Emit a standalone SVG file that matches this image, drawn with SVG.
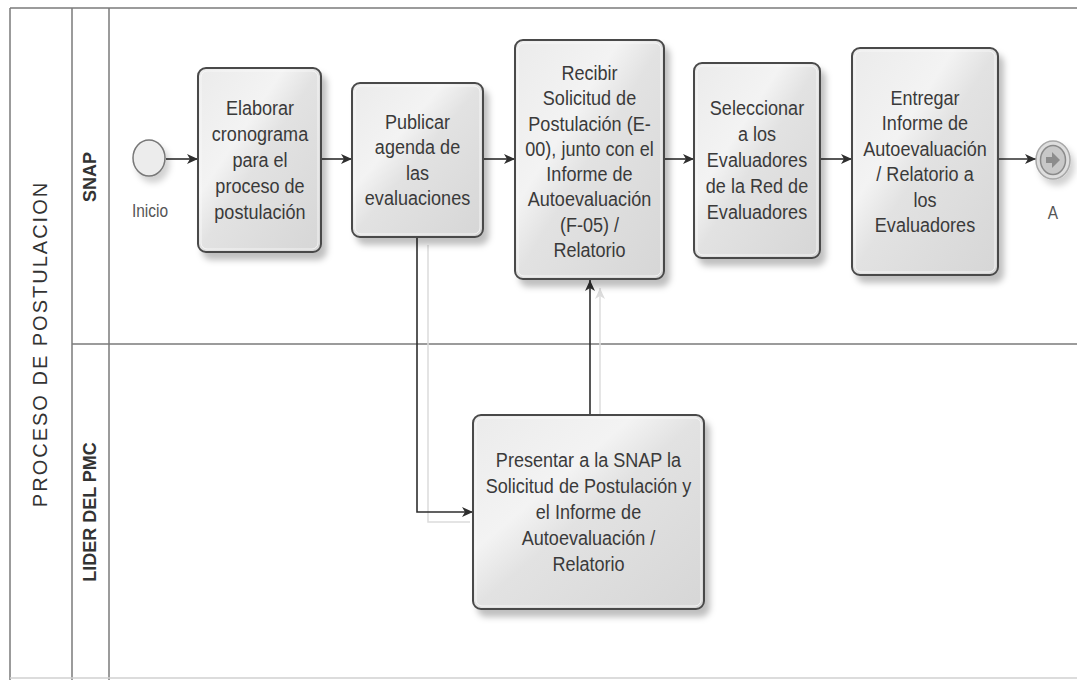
<svg xmlns="http://www.w3.org/2000/svg" width="1077" height="680" viewBox="0 0 1077 680">
<defs>
<style>
.frame{fill:none;stroke:#7a7a7a;stroke-width:1.5}
.box{fill:url(#g);stroke:#4a4a4a;stroke-width:2;filter:url(#sh)}
.inner{fill:none;stroke:#fafafa;stroke-width:1;opacity:0.8}
.t{font-family:"Liberation Sans",Arial,sans-serif;font-size:21px;fill:#3a3a3a;text-anchor:middle}
.lab{font-family:"Liberation Sans",Arial,sans-serif;font-size:18px;fill:#555;text-anchor:middle}
.lane{font-family:"Liberation Sans",Arial,sans-serif;font-weight:bold;font-size:18px;fill:#333;text-anchor:middle}
.pool{font-family:"Liberation Sans",Arial,sans-serif;font-size:20px;letter-spacing:2px;fill:#333;text-anchor:middle}
.c{fill:none;stroke:#2e2e2e;stroke-width:1.6;marker-end:url(#ar)}
.cs{fill:none;stroke:#dcdcdc;stroke-width:1.5}
</style>
<linearGradient id="g" x1="0" y1="0" x2="1" y2="1">
<stop offset="0" stop-color="#ebebeb"/>
<stop offset="0.35" stop-color="#f3f3f3"/>
<stop offset="0.5" stop-color="#e2e2e2"/>
<stop offset="1" stop-color="#d6d6d6"/>
</linearGradient>
<filter id="sh" x="-10%" y="-10%" width="130%" height="130%">
<feDropShadow dx="5" dy="7" stdDeviation="3" flood-color="#000" flood-opacity="0.25"/>
</filter>
<filter id="sh2" x="-50%" y="-50%" width="200%" height="200%">
<feDropShadow dx="4" dy="6" stdDeviation="3" flood-color="#000" flood-opacity="0.18"/>
</filter>
<marker id="ar" markerUnits="userSpaceOnUse" markerWidth="12" markerHeight="10" refX="11" refY="5" orient="auto">
<path d="M0,0 L11,5 L0,10 L3,5 z" fill="#2e2e2e"/>
</marker>
<marker id="ars" markerUnits="userSpaceOnUse" markerWidth="12" markerHeight="10" refX="11" refY="5" orient="auto">
<path d="M0,0 L11,5 L0,10 L3,5 z" fill="#dcdcdc"/>
</marker>
</defs>
<rect width="1077" height="680" fill="#fff"/>

<g id="pool">
<path class="frame" d="M10,8 H1077"/>
<path class="frame" d="M10,8 V680"/>
<path class="frame" d="M72,8 V680"/>
<path class="frame" d="M109,8 V680"/>
<path class="frame" d="M72,344 H1077"/>
<path d="M10,678 H1077" stroke="#d0d0d0" stroke-width="1.5"/>
<text class="pool" transform="translate(47,344) rotate(-90)">PROCESO DE POSTULACION</text>
<text class="lane" transform="translate(96,177) rotate(-90)">SNAP</text>
<text class="lane" transform="translate(96,512) rotate(-90)">LIDER DEL PMC</text>
</g>

<g id="connectors">
<path class="cs" d="M428,245 V522 H470"/>
<path class="cs" d="M600,415 V288" marker-end="url(#ars)"/>
<path class="c" d="M166,159 H198"/>
<path class="c" d="M321,159 H352"/>
<path class="c" d="M483,159 H515"/>
<path class="c" d="M664,159 H694"/>
<path class="c" d="M820,159 H852"/>
<path class="c" d="M998,159 H1036"/>
<path class="c" d="M417,237 V512 H473"/>
<path class="c" d="M590,415 V280"/>
</g>

<g id="start">
<ellipse cx="149" cy="158" rx="16" ry="18" fill="#ececec" stroke="#777" stroke-width="1.5" filter="url(#sh2)"/>
<text class="lab" transform="translate(150,217) scale(0.86,1)">Inicio</text>
</g>

<g id="elaborar">
<rect class="box" x="198" y="68" width="123" height="184" rx="8"/>
<rect class="inner" x="201" y="71" width="117" height="178" rx="6"/>
<text class="t" transform="translate(260,0) scale(0.86,1)"><tspan x="0" y="115">Elaborar</tspan><tspan x="0" dy="26">cronograma</tspan><tspan x="0" dy="26">para el</tspan><tspan x="0" dy="26">proceso de</tspan><tspan x="0" dy="26">postulación</tspan></text>
</g>

<g id="publicar">
<rect class="box" x="352" y="83" width="131" height="154" rx="8"/>
<rect class="inner" x="355" y="86" width="125" height="148" rx="6"/>
<text class="t" transform="translate(417.5,0) scale(0.86,1)"><tspan x="0" y="129">Publicar</tspan><tspan x="0" dy="25.5">agenda de</tspan><tspan x="0" dy="25.5">las</tspan><tspan x="0" dy="25.5">evaluaciones</tspan></text>
</g>

<g id="recibir">
<rect class="box" x="515" y="40" width="149" height="239" rx="8"/>
<rect class="inner" x="518" y="43" width="143" height="233" rx="6"/>
<text class="t" transform="translate(589.5,0) scale(0.86,1)"><tspan x="0" y="80">Recibir</tspan><tspan x="0" dy="25.3">Solicitud de</tspan><tspan x="0" dy="25.3">Postulación (E-</tspan><tspan x="0" dy="25.3">00), junto con el</tspan><tspan x="0" dy="25.3">Informe de</tspan><tspan x="0" dy="25.3">Autoevaluación</tspan><tspan x="0" dy="25.3">(F-05) /</tspan><tspan x="0" dy="25.3">Relatorio</tspan></text>
</g>

<g id="seleccionar">
<rect class="box" x="694" y="63" width="126" height="195" rx="8"/>
<rect class="inner" x="697" y="66" width="120" height="189" rx="6"/>
<text class="t" transform="translate(757,0) scale(0.86,1)"><tspan x="0" y="115">Seleccionar</tspan><tspan x="0" dy="26">a los</tspan><tspan x="0" dy="26">Evaluadores</tspan><tspan x="0" dy="26">de la Red de</tspan><tspan x="0" dy="26">Evaluadores</tspan></text>
</g>

<g id="entregar">
<rect class="box" x="852" y="48" width="146" height="227" rx="8"/>
<rect class="inner" x="855" y="51" width="140" height="221" rx="6"/>
<text class="t" transform="translate(925,0) scale(0.86,1)"><tspan x="0" y="105">Entregar</tspan><tspan x="0" dy="25.5">Informe de</tspan><tspan x="0" dy="25.5">Autoevaluación</tspan><tspan x="0" dy="25.5">/ Relatorio a</tspan><tspan x="0" dy="25.5">los</tspan><tspan x="0" dy="25.5">Evaluadores</tspan></text>
</g>

<g id="end">
<ellipse cx="1053" cy="160" rx="17" ry="19" fill="#dedede" stroke="#a8a8a8" stroke-width="1.5" filter="url(#sh2)"/>
<ellipse cx="1053" cy="160" rx="12.5" ry="14.5" fill="#c8c8c8" stroke="#8a8a8a" stroke-width="1.5"/>
<path d="M1046,157 h6 v-5 l8,8 l-8,8 v-5 h-6 z" fill="#8c8c8c"/>
<text class="lab" transform="translate(1053,219) scale(0.86,1)">A</text>
</g>

<g id="presentar">
<rect class="box" x="473" y="415" width="231" height="194" rx="8"/>
<rect class="inner" x="476" y="418" width="225" height="188" rx="6"/>
<text class="t" transform="translate(588.5,0) scale(0.86,1)"><tspan x="0" y="467">Presentar a la SNAP la</tspan><tspan x="0" dy="26">Solicitud de Postulación y</tspan><tspan x="0" dy="26">el Informe de</tspan><tspan x="0" dy="26">Autoevaluación /</tspan><tspan x="0" dy="26">Relatorio</tspan></text>
</g>
</svg>
